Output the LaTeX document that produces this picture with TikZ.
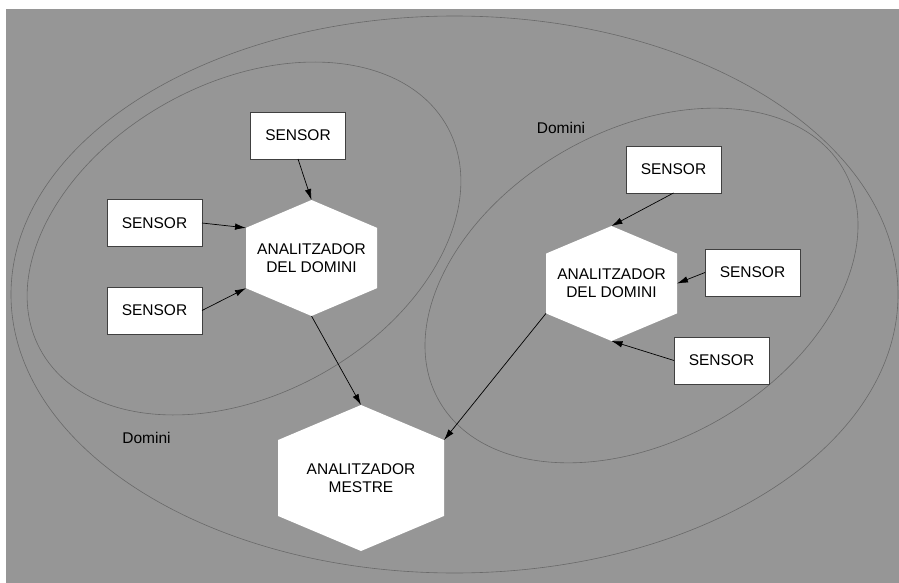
\documentclass[tikz,border=0pt]{standalone}
\usepackage{fontspec}
\setmainfont{Liberation Sans}
\usetikzlibrary{arrows.meta,positioning,calc}
\definecolor{fons}{RGB}{150,150,150}
\definecolor{vora}{RGB}{105,105,105}
\newcommand{\hexfill}{%
  \fill[white] (path picture bounding box.north)
    -- ($(path picture bounding box.north east)!0.24!(path picture bounding box.south east)$)
    -- ($(path picture bounding box.south east)!0.24!(path picture bounding box.north east)$)
    -- (path picture bounding box.south)
    -- ($(path picture bounding box.south west)!0.24!(path picture bounding box.north west)$)
    -- ($(path picture bounding box.north west)!0.24!(path picture bounding box.south west)$)
    -- cycle;}

\begin{document}
\begin{tikzpicture}[x=1pt,y=-1pt,>={Latex[length=11pt,width=6.5pt]},line width=0.7pt]
  \tikzstyle{every node}=[font=\fontsize{15.5}{18}\selectfont,inner sep=0pt,outer sep=0pt]
  \tikzstyle{sensor}=[draw=black!75,fill=white,line width=0.8pt,
                      minimum width=95pt,minimum height=47pt]
  \tikzstyle{analitzador}=[align=center,path picture=\hexfill]
  \tikzstyle{domini}=[draw=vora,line width=0.6pt]

  \useasboundingbox (0,0) rectangle (899,583);
  \fill[white] (0,0) rectangle (899,583);
  \fill[fons] (6,9) rectangle (899,583);

  \draw[domini] (454.5,294.5) ellipse [x radius=443.5, y radius=278.5];
  \draw[domini,rotate around={28.7:(244,238.5)}] (244,238.5)
    ellipse [x radius=232, y radius=156];
  \draw[domini,rotate around={29.7:(641.5,285.5)}] (641.5,285.5)
    ellipse [x radius=233, y radius=155];

  \node[analitzador,minimum width=131pt,minimum height=116pt] (LA) at (311.5,258)
    {ANALITZADOR\\DEL DOMINI};
  \node[analitzador,minimum width=131pt,minimum height=115pt] (RA) at (611.5,283.5)
    {ANALITZADOR\\DEL DOMINI};
  \node[analitzador,minimum width=166pt,minimum height=146pt] (MA) at (361,478)
    {ANALITZADOR\\MESTRE};

  \node[sensor] (SL1) [above=41pt of LA,xshift=-13.5pt] {SENSOR};
  \node[sensor] (SL2) [left=44pt of LA,yshift=35pt]     {SENSOR};
  \node[sensor] (SL3) [left=44pt of LA,yshift=-52.5pt]  {SENSOR};
  \node[sensor] (SR1) [above=33pt of RA,xshift=62pt]    {SENSOR};
  \node[sensor] (SR2) [right=28pt of RA,yshift=11pt]    {SENSOR};
  \node[sensor] (SR3) [right=-3pt of RA,yshift=-77pt]   {SENSOR};

  \node (DL) at (146.5,437.5) {Domini};
  \node (DR) at (561,127.5)   {Domini};

  \path[->] (SL1.south) edge (LA.north)
            (SL2.east)  edge ($(LA.north west)!0.24!(LA.south west)$)
            (SL3.east)  edge ($(LA.south west)!0.24!(LA.north west)$)
            (LA.south)  edge (MA.north)
            (SR1.south) edge (RA.north)
            (SR2.west)  edge (RA.east)
            (SR3.west)  edge (RA.south)
            ($(RA.south west)!0.24!(RA.north west)$)
                        edge ($(MA.north east)!0.24!(MA.south east)$);
\end{tikzpicture}
\end{document}
